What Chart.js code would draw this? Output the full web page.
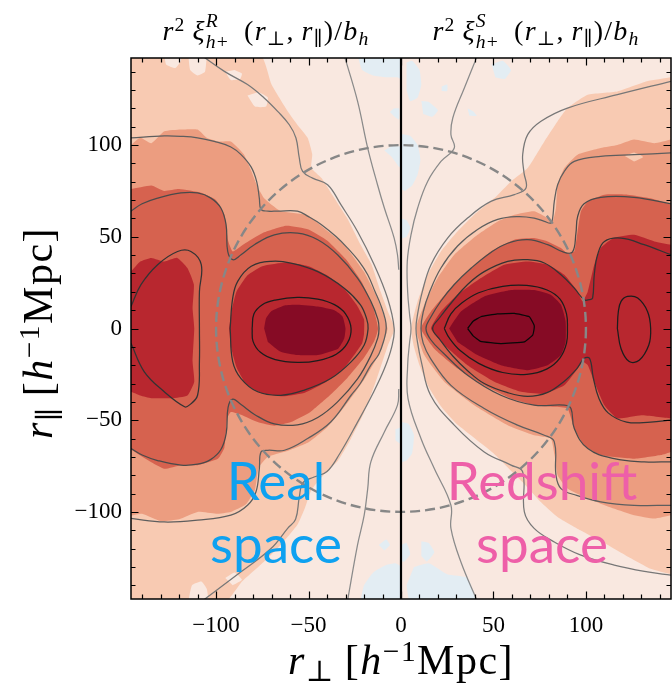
<!DOCTYPE html>
<html>
<head>
<meta charset="utf-8">
<script src="https://cdn.jsdelivr.net/npm/chart.js@4.4.1/dist/chart.umd.min.js"></script>
<style>
  html, body { margin: 0; padding: 0; background: #fff; }
  #wrap { position: relative; width: 672px; height: 691px; overflow: hidden; }
  #c { position: absolute; left: 0; top: 0; }
  .math { position: absolute; font-family: "Liberation Serif", "DejaVu Serif", serif; color: #000; white-space: nowrap; line-height: 1; }
  .math sup, .math sub { font-size: 0.7em; line-height: 0; }
  .math sup { vertical-align: 0.45em; }
  .math sub { vertical-align: -0.25em; }
  .ss { display: inline-block; vertical-align: -0.42em; font-size: 0.7em; line-height: 1.08; text-align: left; }
  .ss span { display: block; }
  .ttl { top: 10px; width: 270px; text-align: center; font-size: 28px; letter-spacing: 1.2px; }
  .axt { font-size: 42px; letter-spacing: 1.5px; }
  .tag { position: absolute; font-family: "Lato", "Open Sans", sans-serif; font-size: 53px; line-height: 63px; text-align: center; white-space: nowrap; }
</style>
</head>
<body>
<div id="wrap">
  <canvas id="c" width="672" height="691"></canvas>
  <div class="math ttl" style="left:131px;"><i>r</i><sup>2</sup>&thinsp;<i>ξ</i><span class="ss"><span><i>R</i></span><span><i>h</i>+</span></span>&ensp;(<i>r</i><sub>⊥</sub>,&thinsp;<i>r</i><sub>∥</sub>)/<i>b</i><sub><i>h</i></sub></div>
  <div class="math ttl" style="left:401px;"><i>r</i><sup>2</sup>&thinsp;<i>ξ</i><span class="ss"><span><i>S</i></span><span><i>h</i>+</span></span>&ensp;(<i>r</i><sub>⊥</sub>,&thinsp;<i>r</i><sub>∥</sub>)/<i>b</i><sub><i>h</i></sub></div>
  <div class="math axt" style="left:131px;width:540px;text-align:center;top:639px;"><i>r</i><sub>⊥</sub>&thinsp;[<i>h</i><sup>−1</sup>Mpc]</div>
  <div class="math axt" style="left:-92px;top:312px;width:260px;text-align:center;transform:rotate(-90deg);"><i>r</i><sub>∥</sub>&thinsp;[<i>h</i><sup>−1</sup>Mpc]</div>
  <div class="tag" style="left:176px;top:448px;width:200px;color:#0ea1f0;">Real<br>space</div>
  <div class="tag" style="left:442px;top:448px;width:200px;color:#ee5fa8;">Redshift<br>space</div>
</div>
<script>
// Axis ticks
const xTickValues = [-100, -50, 0, 50, 100];
const yTickValues = [-100, -50, 0, 50, 100];

// Filled levels, lowest to highest
const levelColors = ['#f9e8e0', '#f8cab2', '#ec9d80', '#d6624f', '#b8272f', '#860b25'];
const negColor = '#e3edf3';

// ---------- Real space (r_perp < 0) ----------
const realNegPatches = [
  [[-23.5,149],[-21,141],[-15,138],[-8,137],[-2,137],[0,136],[0,149]],
  [[-9,97],[-5,93.5],[-1,88],[0,88],[0,99],[-5,99.5]],
  [[-6,118],[-3,115],[-1,114],[-1,120],[-4,120]],
  [[-22,-149],[-20,-140],[-15,-133],[-8,-129],[-3,-128],[0,-130],[0,-149]],
  [[-3,-55],[0,-54],[0,-63],[-3,-61]],
  [[-12,-118],[-8,-115],[-6,-118],[-9,-121]]
];
const realBand1 = [[-146,149],[-76,149],[-70,133],[-61,118],[-56,111],[-50.5,104],[-48,95],[-48.5,87.5],[-43,82],[-36,71],[-29,60],[-22,46],[-16,35],[-11,20],[-7,9],[-3.5,0],[-7,-9],[-10,-18],[-14,-30],[-20,-46],[-27,-60],[-34,-72],[-42,-80],[-48.5,-88],[-52,-98],[-56,-107],[-65,-118],[-74,-127],[-86,-138],[-95,-149],[-146,-149]];
const realZeroPatches = [
  [[-128,149],[-127,144],[-122,142],[-119,146],[-119,149]],
  [[-115,149],[-114,141],[-110,138],[-106,140],[-105,149]],
  [[-95,140],[-92,135.5],[-87,136],[-86,139],[-90,141]],
  [[-83,127],[-79,121],[-73,121],[-72,126],[-77,129]],
  [[-115,-149],[-113,-140],[-108,-138],[-105,-142],[-104,-149]],
  [[-95,-136],[-90,-133],[-86,-137],[-91,-140]]
];
const realBand2 = [[-146,100],[-141,104],[-135,101],[-128,107.5],[-119,108.5],[-110,108.5],[-105,104],[-99,102],[-92,102],[-85,95],[-81,86],[-77.5,77],[-74,71],[-70,67.5],[-65,64],[-51,62],[-42,55],[-31,46],[-20,31],[-13,17],[-7.3,0],[-12,-14],[-20,-28],[-30,-42],[-40,-54],[-50,-62],[-62,-67],[-72,-70],[-77,-76],[-79,-88],[-84,-96],[-92,-100],[-100,-101],[-110,-100],[-120,-104],[-130,-105],[-140,-101],[-146,-102]];
const realBand3 = [[-146,76],[-135,78],[-128,75],[-120,76],[-108,74],[-100,70],[-95.5,62],[-93.5,48],[-91,42],[-85,46],[-75,52],[-62,56],[-50,54],[-40,48],[-30,38],[-21,25],[-15,11],[-12.4,0],[-14.5,-7],[-20,-16],[-29,-27],[-38,-36],[-49,-45.5],[-59.5,-51],[-68.5,-53],[-77.5,-51],[-86.5,-47],[-92,-45.5],[-94,-49],[-95.5,-65],[-99,-71],[-110,-74.5],[-119,-74.5],[-128,-76.5],[-135,-73],[-146,-66]];
const realBand4Inner = [[-93,0],[-91.5,10],[-89,20],[-83,29],[-75,34],[-62,36],[-50,34],[-40,29],[-31,22],[-24,13],[-20,5],[-20,-3],[-21,-8],[-25,-14],[-32,-23],[-42,-30],[-52,-35],[-64,-37],[-76,-35],[-84,-30],[-89,-21],[-92,-10]];
const realBand4Outer = [[-146,31],[-141,36.5],[-135,38.5],[-128,36.5],[-121,38.5],[-115.5,33],[-112,24],[-112.7,11],[-111.8,0],[-112.7,-18],[-111.8,-29],[-115.5,-36.5],[-124,-38],[-135,-38],[-141,-36.5],[-146,-34.5]];
const realBand5 = [[-74,0],[-73,5.5],[-70,9.5],[-63,12.6],[-56,13],[-45,12],[-36,10],[-31.6,6.6],[-30,0],[-30.7,-5.5],[-34,-11],[-45,-14.5],[-56,-14.5],[-65,-12.7],[-72,-7.3]];

const realContour0Up = [[-30.7,149],[-23.5,124],[-18,98.4],[-12.7,78.4],[-9,65.7],[-3.7,49.3],[-1.9,40.2],[-1.2,32]];
const realContour0Down = [[-1.2,-33],[-1.9,-41.8],[-9,-56.4],[-16.3,-72.7],[-18,-87.3],[-19.9,-101.8],[-23.5,-118],[-29,-149]];
const realContour1 = [[-108,149],[-95.5,140.2],[-83,133],[-74,125.7],[-66.7,118.4],[-60.4,111.1],[-56.8,103.9],[-55,93],[-53.2,85.7],[-47.8,82],[-39.7,78.4],[-32.5,67.5],[-23.5,52.9],[-14.5,34.8],[-7.3,16.6],[-3.7,0],[-5,-10],[-9,-22],[-15,-35],[-24,-52],[-33,-68],[-40,-78],[-47,-81],[-53,-84],[-55,-92],[-57,-104],[-61.3,-109],[-70.3,-120],[-86.5,-132.7],[-108,-149]];
const realContour2 = [[-146,104],[-128,105],[-119,104.8],[-110,104],[-101,102],[-92,99],[-86.5,94.8],[-81,88],[-78,80],[-76.6,71],[-75.7,65],[-72,64],[-66.7,64],[-56,64],[-50,61],[-43,56.6],[-35,50],[-29,44],[-23,37],[-18,29.3],[-14,20],[-11,12.9],[-8.5,5],[-8,0],[-9,-5.5],[-12,-14],[-16.3,-20],[-22,-30],[-27,-36.4],[-38,-51],[-50.5,-60],[-63,-66.4],[-72,-66.4],[-75.7,-67.3],[-76.6,-76.4],[-78.4,-89],[-83,-96.4],[-92,-101.8],[-110,-104.5],[-128,-105.5],[-146,-103.6]];
const realContour3 = [[-146,64],[-140,68],[-131.6,71.1],[-119,73.9],[-110,73.9],[-102.8,71.1],[-97.4,65.7],[-94.6,56.6],[-93.7,42],[-91,37.5],[-86.5,40.2],[-79.3,45.7],[-68.5,51.1],[-55.9,52],[-45,48.4],[-34.3,40.2],[-23.5,27.5],[-16.3,14.8],[-12.5,5],[-11.9,0],[-12.5,-5],[-16.3,-14.8],[-23.5,-27.5],[-34.3,-40],[-45,-48.5],[-56,-52.5],[-68.5,-52],[-79,-47],[-86.5,-41.5],[-91,-38.5],[-93.5,-43],[-94.5,-57],[-97.4,-66],[-103,-71.5],[-110,-74],[-119,-74.5],[-131.6,-72],[-140,-69],[-146,-65.5]];
const realContour4Inner = [[-92.4,0],[-91,16.6],[-88.3,25.7],[-81,33.9],[-70.3,36.6],[-59.5,35.7],[-45,31],[-30.7,22],[-22,13],[-18.5,5],[-17.8,0],[-19.9,-9],[-27,-18.2],[-38,-27.3],[-52.3,-33.6],[-65,-36.4],[-77.5,-34.5],[-86.5,-27.3],[-91,-18],[-92.4,0]];
const realContour4Outer = [[-146,12],[-140.6,23.9],[-131.6,34.8],[-120.8,42],[-113.6,42],[-108,34.8],[-109,20.2],[-109,0],[-109,-18],[-110,-36.4],[-114.5,-41.8],[-117,-42.7],[-128,-34.5],[-138.8,-23.6],[-146,-8]];
const realContour5 = [[-80.5,0],[-79.5,8],[-75,13],[-68,15.5],[-56,17],[-45,16],[-36,13],[-30,8],[-27,0],[-29,-8],[-35,-14],[-45,-17.5],[-56,-18.5],[-68,-17],[-76,-13],[-80,-7],[-80.5,0]];

// ---------- Redshift space (r_perp > 0) ----------
const redNegPatches = [
  [[3,145],[6,146],[10,141],[11,133],[9,126],[5,124],[3,130]],
  [[11,124],[15,123.5],[20,119],[17,115.5],[12,117]],
  [[0,106],[5,105],[9,100],[10.5,92],[9,84],[6,78],[2,75],[0,76]],
  [[36,120],[39,118.5],[41,116],[37,116]],
  [[49,144],[55,146],[59.5,141],[56,136],[51,137]],
  [[22,132],[25,133],[25,129.5],[22,129.5]],
  [[0,60],[3,59],[5,55],[3,50],[0,49]],
  [[0,-51],[4,-52],[7,-58],[6,-68],[3,-72],[0,-73]],
  [[11,-116],[15,-117],[18,-122],[14,-127],[11,-124]],
  [[7,-130],[15,-128],[25,-134],[36,-136],[40,-149],[5,-149],[3,-140]],
  [[0,-118],[3,-117],[5,-123],[2,-127],[0,-127]]
];
const redBand1 = [[146,137],[133,134.8],[117,129.3],[101,127.5],[90,120.2],[84.7,113],[77.5,102],[68.5,87.5],[59.5,80.2],[50.5,71.1],[39.6,62],[30.6,53],[21.6,42],[14.4,29.3],[9,14.8],[5.4,0],[7,-10],[10,-20],[15,-32],[22,-43],[30,-52],[40,-60],[50,-68],[58,-76],[66,-84],[75,-94],[85,-103],[97,-110],[110,-117],[122,-124],[135,-131],[146,-134]];
const redOnePatches = [
  [[121,94],[126,96],[131,93.5],[126,91]]
];
const redBand2 = [[146,103],[137,101],[126,103],[117,100],[108,98.4],[95.5,94.8],[88.3,87.5],[84.7,78.4],[83.8,65.7],[82,58.4],[79.3,60.2],[72,63.9],[61.3,62],[52.3,58.4],[41.4,51.1],[28.8,40.2],[19.8,27.5],[12.6,12.9],[8.1,0],[12.6,-14.5],[23.4,-29],[39.6,-41.8],[57.7,-52.7],[72,-58.2],[81,-60],[83,-69],[84.7,-80],[90,-87.3],[101,-92.7],[115,-98.2],[126,-101.8],[137,-103.6],[146,-101.8]];
const redBand3 = [[146,67.5],[135,71],[122.5,73],[110,73],[101,69.3],[97.3,63.9],[95.5,53],[93.7,42],[90,41],[86.5,43.9],[79.3,47.5],[72,49.3],[61.3,48.4],[48.6,42],[36,31],[25.2,20.2],[16.2,9.3],[10.8,0],[18,-11],[30.6,-21.8],[45,-31],[59.5,-38.2],[72,-41.8],[83,-42.7],[90,-43.6],[93.7,-54.5],[99,-63.6],[108,-69],[126,-71],[140.5,-69],[146,-67.3]];
const redBand4 = [[146,45.7],[137,47.5],[126,51.1],[115,49.3],[108,43.9],[104.5,34.8],[101,20.2],[98.2,14.8],[95.5,20.2],[88.3,29.3],[79.3,34.8],[68.5,36.6],[55.9,34.8],[43.2,27.5],[30.6,18.4],[21.6,9.3],[16.2,0],[23.4,-9],[36,-20],[50.5,-29],[65,-34.5],[77.5,-35.5],[88.3,-31],[95.5,-21.8],[98.2,-18.2],[101,-20],[104.5,-29],[110,-41.8],[117,-49],[130,-47.3],[146,-49]];
const redBand5 = [[26,0],[32.4,9.3],[45,17.5],[59.5,21],[72,21],[81,18.4],[86.5,12.9],[89,3.9],[89,-7.3],[86.5,-14.5],[79.3,-20],[68.5,-22.7],[54,-20],[41.4,-14.5],[30.6,-7.3]];

const redContour0 = [[41.4,149],[34.2,131],[28,114.8],[27,105.7],[28.8,98.4],[21.6,91.1],[14.4,80.2],[9,65.7],[5.4,51.1],[3.4,36.6],[3.6,20],[4.6,8],[5.4,0],[4.6,-8],[3.6,-20],[3.8,-38.2],[10.8,-60],[18,-76.4],[27,-96.4],[27,-109],[32.4,-127.3],[41.4,-149]];
const redContour1 = [[146,134.8],[117,127.5],[90,120.2],[75.7,113],[68.5,105.7],[65.8,94.8],[66.5,85],[67.6,76.6],[61.3,73],[48.6,69.3],[36,60.2],[25.2,49.3],[16.2,34.8],[11.5,20],[9,8],[8.1,0],[9,-8],[11,-18.2],[16,-36.4],[28.8,-52.7],[45,-67.3],[59.5,-74.5],[65.8,-78.2],[66.7,-100],[72,-109],[82.9,-116.4],[97.3,-123.6],[115.3,-129],[133.3,-132.7],[146,-134.5]];
const redContour2 = [[146,95.7],[126,94.8],[108,93.9],[93.7,91.1],[88.3,85.7],[84.7,78.4],[82.9,69.3],[82,60.2],[81,57.5],[77.5,58.4],[72,60.2],[63,61],[52.3,59.5],[41.4,54],[30.6,45],[21.6,33],[15.5,20],[12,9],[10.8,0],[12,-8],[16,-16.4],[27,-31],[45,-43.6],[63,-52.7],[77.5,-58.2],[82.9,-61.8],[83.8,-80],[86.5,-87.3],[95,-91],[108,-94.5],[126,-96.4],[146,-96.4]];
const redContour3 = [[146,68],[126,71.5],[108,71.5],[99,68],[95.5,61],[94.6,52],[92.8,41.8],[88.3,41.5],[79.3,45.7],[68.5,48.4],[57.7,46.5],[48.6,41.5],[38,33],[28.8,24],[21.6,15],[16,6],[13.5,0],[16,-6],[23,-13.5],[36,-25.5],[54,-36.4],[72,-41.8],[88.3,-41.8],[91.9,-43.6],[93.7,-54.5],[101,-65.5],[115.3,-71],[131.5,-72.7],[146,-72.7]];
const redContour4 = [[146,40.2],[131.5,45.7],[119,49.3],[110,47.5],[106.3,40.2],[104.5,29.3],[103.6,16.6],[101.8,15.7],[99,15.7],[93.7,22],[86.5,29.3],[77.5,35.7],[68.5,37.5],[57.7,36.6],[45,31],[36,24],[28,15],[21,6],[17.1,0],[21,-6],[28,-15],[36,-23],[45,-30],[57.7,-35],[68.5,-37],[79,-35],[88,-29],[95,-22],[99,-16.4],[102,-16.4],[104,-27],[107,-38],[112,-46],[122,-51],[135,-51],[146,-50]];
const redContour5 = [[23.4,0],[27,8],[33,14],[42,19.5],[55,23],[68,23.5],[79,21],[86,16],[89.5,8],[90,0],[89.5,-8],[86,-16],[79,-22],[68,-25],[55,-24],[42,-19],[32,-12],[26,-5],[23.4,0]];
const redContour6 = [[36,0],[39,4],[43.2,6.4],[52,8],[61.3,8.2],[69.4,6.4],[72,1.8],[72,0],[71.2,-3.6],[66.7,-7.3],[54,-8.2],[43,-7],[39,-4],[36,0]];
const redContour5Side = [[117,0],[117.5,9],[119,14.8],[122.5,17.5],[128,16.6],[133.3,9.3],[135,0],[134,-9],[128.8,-17.3],[123.4,-18],[119,-11],[117,0]];

// ---------- build datasets (first = drawn first) ----------
const toXY = pts => pts.map(([x, y]) => ({ x, y }));
const datasets = [];
function addFill(pts, color, tension = 0.15) {
  datasets.push({ data: toXY(pts), fill: 'shape', backgroundColor: color, borderColor: 'rgba(0,0,0,0)', borderWidth: 0, pointRadius: 0, tension });
}
function addLine(pts, color, width = 1.25, tension = 0.4) {
  datasets.push({ data: toXY(pts), fill: false, borderColor: color, borderWidth: width, pointRadius: 0, tension });
}

realNegPatches.forEach(p => addFill(p, negColor));
redNegPatches.forEach(p => addFill(p, negColor));
addFill(realBand1, levelColors[1]);
addFill(redBand1, levelColors[1]);
realZeroPatches.forEach(p => addFill(p, levelColors[0]));
addFill(realBand2, levelColors[2]);
addFill(redBand2, levelColors[2]);
redOnePatches.forEach(p => addFill(p, levelColors[1]));
addFill(realBand3, levelColors[3]);
addFill(redBand3, levelColors[3]);
addFill(realBand4Inner, levelColors[4]);
addFill(realBand4Outer, levelColors[4]);
addFill(redBand4, levelColors[4]);
addFill(realBand5, levelColors[5]);
addFill(redBand5, levelColors[5]);

const lineGrey = ['#8a8a8a', '#777777', '#5e5e5e', '#4a4a4a', '#333333', '#1c1c1c', '#080808'];
addLine(realContour0Up, lineGrey[0]);
addLine(realContour0Down, lineGrey[0]);
addLine(realContour1, lineGrey[1]);
addLine(realContour2, lineGrey[2]);
addLine(realContour3, lineGrey[3]);
addLine(realContour4Inner, lineGrey[4]);
addLine(realContour4Outer, lineGrey[4]);
addLine(realContour5, lineGrey[5]);
addLine(redContour0, lineGrey[0]);
addLine(redContour1, lineGrey[1]);
addLine(redContour2, lineGrey[2]);
addLine(redContour3, lineGrey[3]);
addLine(redContour4, lineGrey[4]);
addLine(redContour5, lineGrey[5]);
addLine(redContour5Side, lineGrey[5]);
addLine(redContour6, lineGrey[6], 1.25, 0.1);
datasets.forEach((d, i) => { d.order = datasets.length - i; });

const fmt = v => (v < 0 ? '\u2212' + Math.abs(v) : String(v));

// light background level inside the plotting frame
const backdrop = {
  id: 'backdrop',
  beforeDatasetsDraw(chart) {
    const { ctx, chartArea: a } = chart;
    ctx.save();
    ctx.fillStyle = levelColors[0];
    ctx.fillRect(a.left, a.top, a.right - a.left, a.bottom - a.top);
    ctx.restore();
  }
};

// r = 100 circle, r_perp = 0 divider, frame and inward ticks
const frame = {
  id: 'frame',
  afterDatasetsDraw(chart) {
    const { ctx, chartArea: a, scales: { x, y } } = chart;
    ctx.save();
    ctx.beginPath();
    ctx.rect(a.left, a.top, a.right - a.left, a.bottom - a.top);
    ctx.clip();
    const cx = x.getPixelForValue(0), cy = y.getPixelForValue(0);
    const rx = x.getPixelForValue(100) - cx, ry = cy - y.getPixelForValue(100);
    ctx.setLineDash([10, 5]);
    ctx.strokeStyle = '#878787';
    ctx.lineWidth = 2.4;
    ctx.beginPath();
    ctx.ellipse(cx, cy, rx, ry, 0, 0, Math.PI * 2);
    ctx.stroke();
    ctx.setLineDash([]);
    ctx.restore();

    ctx.save();
    ctx.strokeStyle = '#000';
    ctx.lineWidth = 2.2;
    ctx.beginPath();
    ctx.moveTo(cx, a.top);
    ctx.lineTo(cx, a.bottom);
    ctx.stroke();

    ctx.lineWidth = 1.2;
    ctx.beginPath();
    for (let v = -140; v <= 140; v += 10) {
      const len = v % 50 === 0 ? 7.5 : 4.5;
      const px = Math.round(x.getPixelForValue(v)) + 0.5;
      ctx.moveTo(px, a.bottom); ctx.lineTo(px, a.bottom - len);
      ctx.moveTo(px, a.top); ctx.lineTo(px, a.top + len);
      const py = Math.round(y.getPixelForValue(v)) + 0.5;
      ctx.moveTo(a.left, py); ctx.lineTo(a.left + len, py);
      ctx.moveTo(a.right, py); ctx.lineTo(a.right - len, py);
    }
    ctx.stroke();
    ctx.lineWidth = 1.5;
    ctx.strokeRect(a.left, a.top, a.right - a.left, a.bottom - a.top);
    ctx.restore();
  }
};

const tickFont = { family: 'Liberation Serif', size: 23 };
new Chart(document.getElementById('c'), {
  type: 'line',
  data: { datasets },
  plugins: [backdrop, frame],
  options: {
    responsive: false,
    devicePixelRatio: 1,
    animation: false,
    events: [],
    layout: { padding: { top: 58, right: 1, left: 0, bottom: 0 } },
    plugins: { legend: { display: false }, tooltip: { enabled: false }, filler: { propagate: false } },
    scales: {
      x: {
        type: 'linear', min: -146, max: 146,
        grid: { display: false, drawTicks: false }, border: { display: false },
        afterBuildTicks: s => { s.ticks = xTickValues.map(value => ({ value })); },
        afterFit: s => { s.height = 92; },
        ticks: { font: tickFont, color: '#000', padding: 13, maxRotation: 0, callback: v => fmt(v) }
      },
      y: {
        type: 'linear', min: -147.5, max: 147.5,
        grid: { display: false, drawTicks: false }, border: { display: false },
        afterBuildTicks: s => { s.ticks = yTickValues.map(value => ({ value })); },
        afterFit: s => { s.width = 131; },
        ticks: { font: tickFont, color: '#000', padding: 9, callback: v => fmt(v) }
      }
    }
  }
});
</script>
</body>
</html>
